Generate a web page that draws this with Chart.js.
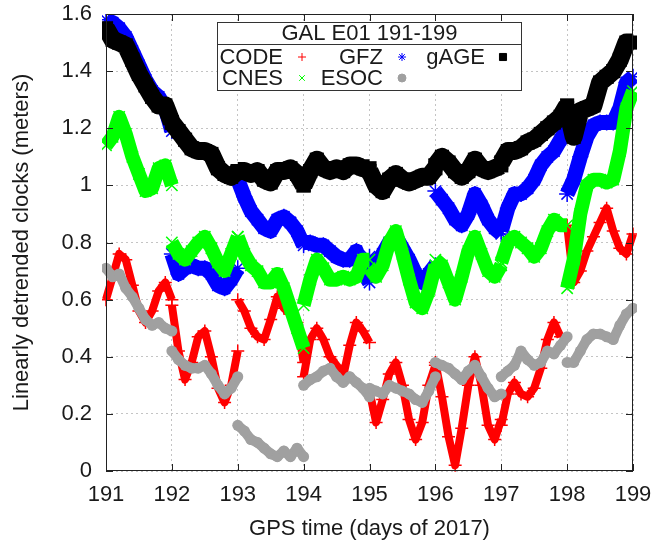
<!DOCTYPE html>
<html>
<head>
<meta charset="utf-8">
<script src="https://cdn.jsdelivr.net/npm/chart.js@4/dist/chart.umd.min.js"></script>
<style>
  html, body { margin: 0; padding: 0; background: #ffffff; }
  #c { display: block; }
</style>
</head>
<body>
<canvas id="c" width="655" height="543"></canvas>
<script>
// ---------------- DATA ----------------
const days = [191, 192, 193, 194, 195, 196, 197, 198];   // one arc per day
const samplesPerDay = 10;                                 // values at day + k/10, k = 0..10
const xTickLabels = ['191', '192', '193', '194', '195', '196', '197', '198', '199'];
const yTickLabels = ['0', '0.2', '0.4', '0.6', '0.8', '1', '1.2', '1.4', '1.6'];

const CODE = [
  [0.60, 0.68, 0.76, 0.74, 0.65, 0.56, 0.52, 0.56, 0.63, 0.66, 0.60],
  [0.58, 0.42, 0.32, 0.38, 0.47, 0.49, 0.40, 0.29, 0.24, 0.30, 0.42],
  [0.60, 0.56, 0.50, 0.47, 0.46, 0.53, 0.61, 0.57, 0.55, 0.52, 0.38],
  [0.33, 0.46, 0.50, 0.46, 0.40, 0.37, 0.33, 0.44, 0.52, 0.49, 0.45],
  [0.28, 0.17, 0.25, 0.34, 0.38, 0.30, 0.18, 0.11, 0.17, 0.30, 0.37],
  [0.38, 0.26, 0.12, 0.02, 0.15, 0.30, 0.40, 0.30, 0.16, 0.11, 0.18],
  [0.16, 0.27, 0.31, 0.27, 0.26, 0.29, 0.36, 0.46, 0.52, 0.47, null],
  [0.86, 0.66, 0.70, 0.77, 0.82, 0.87, 0.92, 0.84, 0.78, 0.76, 0.83]
];
const GFZ = [
  [1.58, 1.57, 1.55, 1.52, 1.47, 1.42, 1.37, 1.33, 1.31, 1.27, 1.19],
  [0.76, 0.69, 0.71, 0.72, 0.71, 0.71, 0.69, 0.65, 0.64, 0.67, 0.71],
  [1.02, 0.96, 0.91, 0.88, 0.85, 0.84, 0.88, 0.89, 0.87, 0.84, 0.79],
  [0.80, 0.80, 0.79, 0.79, 0.77, 0.75, 0.74, 0.74, 0.77, 0.70, 0.66],
  [0.75, 0.72, 0.76, 0.80, 0.82, 0.78, 0.74, 0.69, 0.66, 0.69, 0.72],
  [0.98, 0.95, 0.92, 0.88, 0.86, 0.90, 0.97, 0.93, 0.88, 0.85, 0.83],
  [0.84, 0.92, 0.97, 0.97, 0.99, 1.02, 1.07, 1.10, 1.12, 1.16, 1.20],
  [0.97, 1.02, 1.10, 1.17, 1.21, 1.22, 1.22, 1.22, 1.27, 1.36, 1.38]
];
const GAGE = [
  [1.55, 1.51, 1.50, 1.49, 1.44, 1.39, 1.35, 1.31, 1.28, 1.28, 1.22],
  [1.22, 1.19, 1.16, 1.13, 1.12, 1.12, 1.11, 1.06, 1.04, 1.03, 1.05],
  [1.05, 1.05, 1.04, 1.05, 1.02, 1.01, 1.05, 1.05, 1.06, 1.04, 1.00],
  [1.00, 1.05, 1.09, 1.06, 1.05, 1.06, 1.05, 1.07, 1.07, 1.06, 1.06],
  [1.05, 1.00, 0.98, 1.02, 1.04, 1.02, 1.01, 1.02, 1.03, 1.03, 1.06],
  [1.07, 1.10, 1.08, 1.05, 1.03, 1.05, 1.09, 1.06, 1.05, 1.06, 1.07],
  [1.08, 1.12, 1.12, 1.13, 1.15, 1.16, 1.18, 1.20, 1.22, 1.24, 1.28],
  [1.27, 1.17, 1.26, 1.27, 1.28, 1.36, 1.38, 1.40, 1.44, 1.50, 1.50]
];
const CNES = [
  [1.14, 1.17, 1.24, 1.18, 1.10, 1.04, 0.98, 0.99, 1.06, 1.07, 1.00],
  [0.80, 0.76, 0.74, 0.77, 0.80, 0.82, 0.78, 0.73, 0.70, 0.76, 0.82],
  [0.82, 0.76, 0.72, 0.70, 0.66, 0.66, 0.69, 0.64, 0.57, 0.50, 0.43],
  [0.58, 0.67, 0.74, 0.71, 0.67, 0.67, 0.68, 0.67, 0.68, 0.74, 0.74],
  [0.71, 0.68, 0.72, 0.80, 0.84, 0.76, 0.67, 0.59, 0.57, 0.63, 0.72],
  [0.74, 0.72, 0.66, 0.60, 0.68, 0.77, 0.82, 0.76, 0.70, 0.68, 0.72],
  [0.73, 0.80, 0.82, 0.80, 0.78, 0.75, 0.78, 0.84, 0.88, 0.86, 0.86],
  [0.64, 0.74, 0.90, 1.00, 1.02, 1.02, 1.01, 1.02, 1.12, 1.27, 1.33]
];
const ESOC = [
  [0.71, 0.68, 0.69, 0.64, 0.61, 0.57, 0.53, 0.51, 0.52, 0.50, 0.49],
  [0.42, 0.39, 0.37, 0.36, 0.36, 0.37, 0.34, 0.30, 0.27, 0.29, 0.33],
  [0.16, 0.14, 0.11, 0.10, 0.08, 0.06, 0.05, 0.07, 0.05, 0.08, 0.05],
  [0.30, 0.32, 0.33, 0.35, 0.36, 0.33, 0.31, 0.33, 0.31, 0.29, 0.26],
  [0.29, 0.28, 0.27, 0.30, 0.29, 0.28, 0.27, 0.25, 0.24, 0.28, 0.33],
  [0.38, 0.37, 0.36, 0.34, 0.32, 0.35, 0.37, 0.33, 0.29, 0.26, 0.27],
  [0.33, 0.35, 0.37, 0.42, 0.39, 0.37, 0.38, 0.42, 0.41, 0.44, 0.47],
  [0.38, 0.38, 0.42, 0.46, 0.48, 0.48, 0.47, 0.46, 0.51, 0.55, 0.57]
];
const legendTitle = 'GAL E01 191-199';

// ---------------- BUILD ----------------
function toPoints(series) {
  const pts = [];
  days.forEach((d, i) => {
    series[i].forEach((v, k) => pts.push({ x: d + k / samplesPerDay, y: v }));
    pts.push({ x: d + 1, y: null });      // break between daily arcs
  });
  return pts;
}

const FONT = 'Liberation Sans, Arial, Helvetica, sans-serif';
const TXT = '#1a1a1a';
const clipBox = { left: 4, top: 0, right: 4, bottom: 4 };

const styles = {
  CODE: { color: '#ff0000', point: 'cross',    r: 6.5, pbw: 1.5, lw: 8 },
  GFZ:  { color: '#0000ff', point: 'star',     r: 8,   pbw: 1.5, lw: 15 },
  gAGE: { color: '#000000', point: 'rect',     r: 10,  pbw: 0,   lw: 18 },
  CNES: { color: '#00ff00', point: 'crossRot', r: 8,   pbw: 1.5, lw: 14 },
  ESOC: { color: '#a0a0a0', point: 'circle',   r: 5.5, pbw: 0,   lw: 10 }
};

function ds(label, series, order) {
  const s = styles[label];
  return {
    label, data: toPoints(series), order,
    showLine: true, spanGaps: false, tension: 0,
    borderColor: s.color, backgroundColor: s.color, borderWidth: s.lw,
    borderJoinStyle: 'round', borderCapStyle: 'butt',
    pointStyle: s.point, pointRadius: s.r, pointHoverRadius: s.r,
    pointBorderColor: s.color, pointBackgroundColor: s.color,
    pointBorderWidth: s.pbw,
    clip: clipBox
  };
}

const framePlugin = {
  id: 'frame',
  afterDraw(chart) {
    const { ctx, chartArea: a, scales } = chart;
    ctx.save();
    // frame
    ctx.strokeStyle = '#222';
    ctx.lineWidth = 1;
    ctx.setLineDash([]);
    ctx.strokeRect(Math.round(a.left) + 0.5, Math.round(a.top) + 0.5,
                   Math.round(a.right - a.left) - 1, Math.round(a.bottom - a.top) - 1);
    // inward ticks (mirrored)
    const TL = 7;
    ctx.beginPath();
    scales.x.ticks.forEach(t => {
      const px = Math.round(scales.x.getPixelForValue(t.value)) + 0.5;
      ctx.moveTo(px, a.bottom); ctx.lineTo(px, a.bottom - TL);
      ctx.moveTo(px, a.top); ctx.lineTo(px, a.top + TL);
    });
    scales.y.ticks.forEach(t => {
      const py = Math.round(scales.y.getPixelForValue(t.value)) + 0.5;
      ctx.moveTo(a.left, py); ctx.lineTo(a.left + TL, py);
      ctx.moveTo(a.right, py); ctx.lineTo(a.right - TL, py);
    });
    ctx.stroke();

    // key box
    const bx = 217.5, by = 22.5, bw = 304, bh = 68;
    ctx.fillStyle = '#ffffff';
    ctx.fillRect(bx, by, bw, bh);
    ctx.strokeStyle = '#333';
    ctx.strokeRect(bx, by, bw, bh);
    ctx.beginPath();
    ctx.moveTo(bx, 44.5); ctx.lineTo(bx + bw, 44.5);
    ctx.stroke();
    ctx.fillStyle = TXT;
    ctx.font = '22px ' + FONT;
    ctx.textBaseline = 'middle';
    ctx.textAlign = 'center';
    ctx.fillText(legendTitle, bx + bw / 2, 34);
    const entries = [
      ['CODE', 283, 302, 57], ['GFZ', 383, 402, 57], ['gAGE', 485, 503, 57],
      ['CNES', 283, 302, 78], ['ESOC', 383, 402, 78]
    ];
    ctx.textAlign = 'right';
    entries.forEach(([lab, tx, mx, y]) => {
      ctx.fillStyle = TXT;
      ctx.fillText(lab, tx, y + 1);
      const s = styles[lab];
      ctx.strokeStyle = s.color;
      ctx.fillStyle = s.color;
      ctx.lineWidth = 1;
      Chart.helpers.drawPoint(ctx, {
        pointStyle: s.point, radius: s.point === 'rect' ? 5 : 4,
        borderWidth: 1, rotation: 0
      }, mx, y);
    });
    ctx.restore();
  }
};

function fixAxis(size, prop) {
  return s => {
    s[prop] = size;
    s.paddingTop = 0; s.paddingBottom = 0; s.paddingLeft = 0; s.paddingRight = 0;
  };
}

Chart.defaults.font.family = FONT;
Chart.defaults.color = TXT;

const chart = new Chart(document.getElementById('c').getContext('2d'), {
  type: 'line',
  data: {
    datasets: [
      ds('CODE', CODE, 5),
      ds('GFZ', GFZ, 4),
      ds('gAGE', GAGE, 3),
      ds('CNES', CNES, 2),
      ds('ESOC', ESOC, 1)
    ]
  },
  options: {
    responsive: false,
    animation: false,
    devicePixelRatio: 1,
    events: [],
    layout: { padding: { top: 14, right: 22, left: 0, bottom: 0 } },
    plugins: { legend: { display: false }, tooltip: { enabled: false } },
    scales: {
      x: {
        type: 'linear', min: 191, max: 199,
        afterFit: fixAxis(72, 'height'),
        ticks: {
          stepSize: 1, padding: 11, maxRotation: 0, autoSkip: false,
          font: { size: 22, family: FONT }, color: TXT,
          callback: (v, i) => xTickLabels[i]
        },
        grid: { color: '#c4c4c4', lineWidth: 1, drawTicks: false },
        border: { display: false, dash: [2, 3] },
        title: {
          display: true, text: 'GPS time (days of 2017)',
          font: { size: 22, family: FONT }, color: TXT,
          padding: { top: 0, bottom: 1 }
        }
      },
      y: {
        type: 'linear', min: 0, max: 1.6,
        afterFit: fixAxis(106, 'width'),
        ticks: {
          stepSize: 0.2, padding: 14, autoSkip: false,
          font: { size: 22, family: FONT }, color: TXT,
          callback: (v, i) => yTickLabels[i]
        },
        grid: { color: '#c4c4c4', lineWidth: 1, drawTicks: false },
        border: { display: false, dash: [2, 3] },
        title: {
          display: true, text: 'Linearly detrended clocks (meters)',
          font: { size: 22, family: FONT }, color: TXT,
          padding: { top: 9, bottom: 0 }
        }
      }
    }
  },
  plugins: [framePlugin]
});
</script>
</body>
</html>
